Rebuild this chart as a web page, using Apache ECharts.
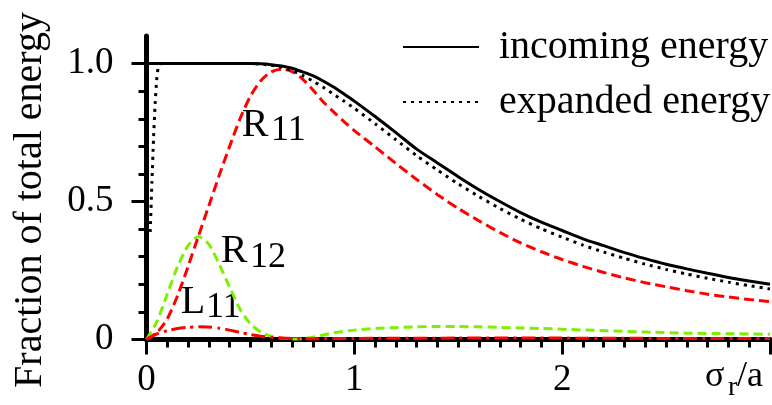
<!DOCTYPE html>
<html><head><meta charset="utf-8">
<script src="https://cdn.jsdelivr.net/npm/echarts@6/dist/echarts.min.js"></script>
<style>html,body{margin:0;padding:0;background:#fff}#c{width:772px;height:405px}</style>
</head><body><div id="c"></div>
<script>
// ---- tick values / labels ----
const xMinorTicks = [0,0.1,0.2,0.3,0.4,0.5,0.6,0.7,0.8,0.9,1,1.1,1.2,1.3,1.4,1.5,1.6,1.7,1.8,1.9,2,2.1,2.2,2.3,2.4,2.5,2.6,2.7,2.8,2.9,3];
const xMajorTicks = [0,1,2,3];
const xLabelValues = [0,1,2];
const yMinorTicks = [0,0.1,0.2,0.3,0.4,0.5,0.6,0.7,0.8,0.9,1.0];
const yMajorTicks = [0,0.5,1.0];
const yTickLabels = ['0','0.5','1.0'];

// ---- data ----
const xCommon = [0,0.05,0.1,0.15,0.2,0.25,0.3,0.35,0.4,0.45,0.5,0.55,0.6,0.65,0.7,0.75,0.8,0.85,0.9,0.95,1.0,1.1,1.2,1.3,1.4,1.5,1.6,1.7,1.8,1.9,2.0,2.1,2.2,2.3,2.4,2.5,2.6,2.7,2.8,2.9,3.0];
const incoming = [1,1,1,1,1,1,1,1,1,1,1,0.999,0.996,0.991,0.983,0.97,0.956,0.937,0.915,0.89,0.864,0.808,0.75,0.69,0.64,0.59,0.543,0.5,0.46,0.425,0.395,0.365,0.34,0.315,0.293,0.273,0.256,0.24,0.225,0.212,0.2];
const R11 = [0,0.025,0.075,0.16,0.265,0.375,0.485,0.595,0.7,0.8,0.882,0.938,0.97,0.98,0.971,0.945,0.905,0.862,0.825,0.79,0.757,0.698,0.638,0.58,0.525,0.475,0.43,0.388,0.35,0.318,0.29,0.265,0.243,0.223,0.206,0.191,0.177,0.164,0.154,0.145,0.137];

const xExpanded = [0.018,0.026,0.034,0.042,0.05,0.058,0.07,0.1,0.2,0.3,0.4,0.5,0.55,0.6,0.65,0.7,0.75,0.8,0.85,0.9,0.95,1.0,1.1,1.2,1.3,1.4,1.5,1.6,1.7,1.8,1.9,2.0,2.1,2.2,2.3,2.4,2.5,2.6,2.7,2.8,2.9,3.0];
const expanded = [0.39,0.57,0.73,0.86,0.95,0.99,1,1,1,1,1,1,0.998,0.994,0.987,0.975,0.957,0.937,0.914,0.889,0.864,0.838,0.782,0.724,0.666,0.614,0.564,0.518,0.475,0.436,0.401,0.371,0.342,0.317,0.294,0.273,0.254,0.237,0.222,0.208,0.195,0.183];

const xR12 = [0,0.05,0.1,0.15,0.2,0.25,0.3,0.35,0.4,0.45,0.5,0.55,0.6,0.65,0.7,0.75,0.8,0.9,1.0,1.1,1.2,1.3,1.4,1.5,1.6,1.7,1.8,1.9,2.0,2.2,2.4,2.6,2.8,3.0];
const R12 = [0,0.065,0.165,0.265,0.34,0.373,0.345,0.272,0.19,0.11,0.057,0.027,0.012,0.005,0.002,0.003,0.008,0.024,0.034,0.04,0.043,0.046,0.047,0.047,0.046,0.044,0.042,0.04,0.037,0.032,0.027,0.023,0.021,0.019];

const xL11 = [0,0.05,0.1,0.15,0.2,0.25,0.3,0.35,0.4,0.45,0.5,0.55,0.6,0.7,0.8,1.0,1.5,2.0,2.5,3.0];
const L11 = [0,0.02,0.032,0.04,0.044,0.046,0.045,0.041,0.034,0.026,0.018,0.012,0.008,0.004,0.003,0.004,0.005,0.005,0.004,0.004];

const FONT = 'Liberation Serif';
const pairs = (xs, ys) => xs.map((x, i) => [x, ys[i]]);

const txt = (text, x, y, size, align) => ({
  type: 'text', x: x, y: y, silent: true,
  style: {text: text, fontSize: size, fontFamily: FONT, fill: '#000', align: align || 'center', verticalAlign: 'middle'}
});

const option = {
  animation: false,
  backgroundColor: '#fff',
  grid: {left: 146.5, right: 2, top: 36, bottom: 65.5, containLabel: false, outerBoundsMode: 'none'},
  legend: {
    data: ['incoming energy', 'expanded energy'],
    orient: 'vertical', left: 402, top: 27, padding: 0,
    itemWidth: 76, itemHeight: 14, itemGap: 15,
    selectedMode: false,
    itemStyle: {opacity: 0},
    textStyle: {fontSize: 40, fontFamily: FONT, color: '#000', padding: [0, 0, 0, 15]}
  },
  xAxis: [
    {type: 'value', min: 0, max: 3, position: 'bottom',
     axisLine: {show: true, onZero: false, lineStyle: {color: '#000', width: 5}},
     axisTick: {show: true, customValues: xMinorTicks, length: 8, lineStyle: {color: '#000', width: 3}},
     axisLabel: {show: false}, splitLine: {show: false}},
    {type: 'value', min: 0, max: 3, position: 'bottom',
     axisLine: {show: false, onZero: false},
     axisTick: {show: true, customValues: xMajorTicks, length: 15, lineStyle: {color: '#000', width: 3}},
     axisLabel: {show: true, customValues: xLabelValues, margin: 22, fontSize: 37, fontFamily: FONT, color: '#000',
                 formatter: v => String(v)},
     splitLine: {show: false}}
  ],
  yAxis: [
    {type: 'value', min: 0, max: 1.1, position: 'left',
     axisLine: {show: true, onZero: false, lineStyle: {color: '#000', width: 5}},
     axisTick: {show: true, customValues: yMinorTicks, length: 8, lineStyle: {color: '#000', width: 3}},
     axisLabel: {show: false}, splitLine: {show: false}},
    {type: 'value', min: 0, max: 1.1, position: 'left', offset: 0,
     axisLine: {show: false, onZero: false},
     axisTick: {show: true, customValues: yMajorTicks, length: 15, lineStyle: {color: '#000', width: 3}},
     axisLabel: {show: true, customValues: yMajorTicks, margin: 33, fontSize: 37, fontFamily: FONT, color: '#000',
                 formatter: v => yTickLabels[yMajorTicks.findIndex(t => Math.abs(t - v) < 1e-9)] || ''},
     splitLine: {show: false}}
  ],
  series: [
    {name: 'R12', type: 'line', data: pairs(xR12, R12), symbol: 'none', smooth: 0.25,
     lineStyle: {color: '#7cf000', width: 3, type: [9, 5]}},
    {name: 'L11', type: 'line', data: pairs(xL11, L11), symbol: 'none', smooth: 0.25,
     lineStyle: {color: '#ff0000', width: 3, type: [14, 5, 3, 5]}},
    {name: 'R11', type: 'line', data: pairs(xCommon, R11), symbol: 'none', smooth: 0.25,
     lineStyle: {color: '#ff0000', width: 3, type: [10, 5]}},
    {name: 'expanded energy', type: 'line', data: pairs(xExpanded, expanded), symbol: 'none', smooth: 0.2,
     itemStyle: {color: '#000'},
     lineStyle: {color: '#000', width: 3, type: [3, 5]}},
    {name: 'incoming energy', type: 'line', data: pairs(xCommon, incoming), symbol: 'none', smooth: 0.25,
     itemStyle: {color: '#000'},
     lineStyle: {color: '#000', width: 3, type: 'solid'}}
  ],
  graphic: [
    Object.assign(txt('Fraction of total energy', 30, 200, 40), {rotation: Math.PI / 2}),
    txt('R', 255, 125, 40), txt('11', 271, 131, 36, 'left'),
    txt('R', 234, 251, 40), txt('12', 250, 257.5, 36, 'left'),
    txt('L', 193, 302, 40), txt('11', 206, 307.5, 36, 'left'),
    txt('σ', 705, 377, 36, 'left'), txt('r', 728, 388, 28, 'left'), txt('/a', 737, 377, 36, 'left')
  ]
};

const chart = echarts.init(document.getElementById('c'));
chart.setOption(option);
</script></body></html>
